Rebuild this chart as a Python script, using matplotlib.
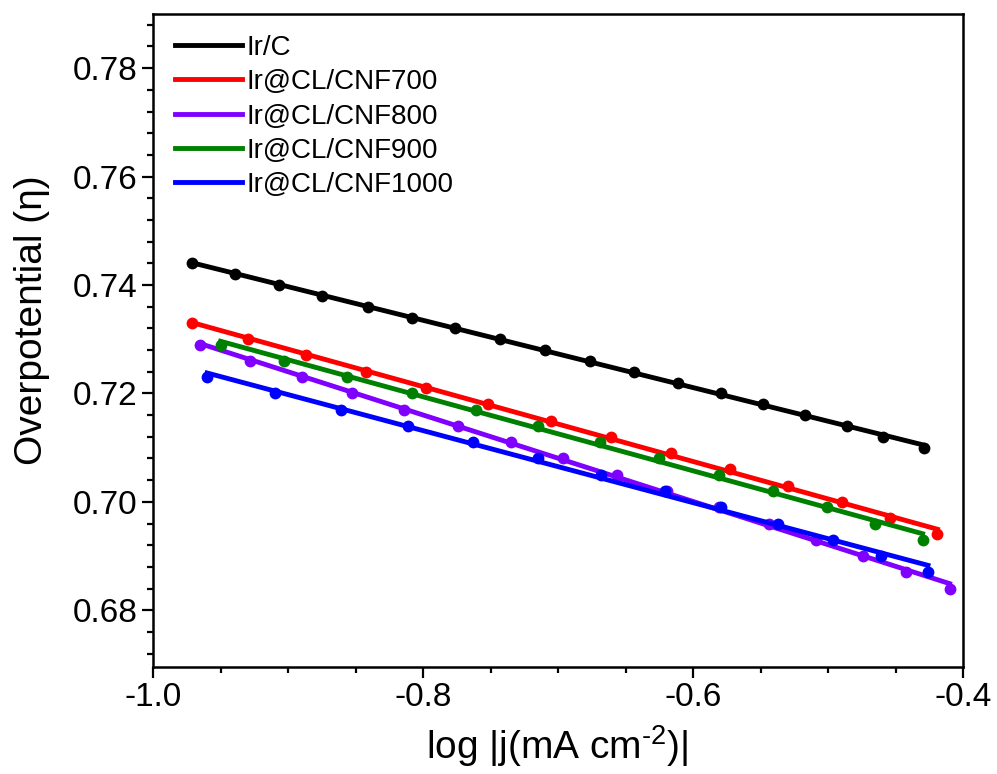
import numpy as np
import matplotlib
matplotlib.use("Agg")
import matplotlib.pyplot as plt
from matplotlib.ticker import MultipleLocator

plt.rcParams['font.family'] = ['Liberation Sans', 'DejaVu Sans']
plt.rcParams['mathtext.fontset'] = 'custom'
plt.rcParams['mathtext.rm'] = 'Liberation Sans'
plt.rcParams['mathtext.default'] = 'regular'

# ---------------- data ----------------
labels = ["Ir/C", "Ir@CL/CNF700", "Ir@CL/CNF800", "Ir@CL/CNF900", "Ir@CL/CNF1000"]
colors = ["black", "#ff0000", "#8000ff", "#008000", "#0000ff"]

x_irc = [-0.971, -0.939, -0.907, -0.875, -0.841, -0.808, -0.776, -0.743, -0.710,
         -0.676, -0.644, -0.611, -0.579, -0.548, -0.517, -0.486, -0.459, -0.429]
y_irc = [0.744, 0.742, 0.740, 0.738, 0.736, 0.734, 0.732, 0.730, 0.728,
         0.726, 0.724, 0.722, 0.720, 0.718, 0.716, 0.714, 0.712, 0.710]

x_700 = [-0.971, -0.930, -0.887, -0.842, -0.798, -0.752, -0.705, -0.661, -0.616,
         -0.573, -0.530, -0.490, -0.454, -0.419]
y_700 = [0.733, 0.730, 0.727, 0.724, 0.721, 0.718, 0.715, 0.712, 0.709,
         0.706, 0.703, 0.700, 0.697, 0.694]

x_800 = [-0.965, -0.928, -0.890, -0.853, -0.814, -0.774, -0.735, -0.696, -0.656,
         -0.619, -0.581, -0.544, -0.509, -0.474, -0.442, -0.410]
y_800 = [0.729, 0.726, 0.723, 0.720, 0.717, 0.714, 0.711, 0.708, 0.705,
         0.702, 0.699, 0.696, 0.693, 0.690, 0.687, 0.684]

x_900 = [-0.950, -0.903, -0.856, -0.808, -0.761, -0.715, -0.669, -0.625, -0.581,
         -0.541, -0.501, -0.465, -0.430]
y_900 = [0.729, 0.726, 0.723, 0.720, 0.717, 0.714, 0.711, 0.708, 0.705,
         0.702, 0.699, 0.696, 0.693]

x_1000 = [-0.960, -0.910, -0.861, -0.811, -0.763, -0.715, -0.668, -0.621, -0.579,
          -0.537, -0.496, -0.461, -0.426]
y_1000 = [0.723, 0.720, 0.717, 0.714, 0.711, 0.708, 0.705, 0.702, 0.699,
          0.696, 0.693, 0.690, 0.687]

xs = [x_irc, x_700, x_800, x_900, x_1000]
ys = [y_irc, y_700, y_800, y_900, y_1000]

# ---------------- plot ----------------
figure, axes = plt.subplots(figsize=(9.97, 7.74), dpi=100)
figure.subplots_adjust(left=0.1535, right=0.966, bottom=0.138, top=0.982)

for x, y, c, lab in zip(xs, ys, colors, labels):
    x = np.array(x)
    y = np.array(y)
    axes.plot(x, y, "o", color=c, markersize=8.5, markeredgewidth=0)
    k, b = np.polyfit(x, y, 1)  # Tafel linear fit
    xf = np.array([x.min(), x.max()])
    axes.plot(xf, k * xf + b, "-", color=c, linewidth=3.5, label=lab)

axes.set_xlim(-1.0, -0.4)
axes.set_ylim(0.6695, 0.79)
axes.xaxis.set_major_locator(MultipleLocator(0.2))
axes.xaxis.set_minor_locator(MultipleLocator(0.05))
axes.yaxis.set_major_locator(MultipleLocator(0.02))
axes.yaxis.set_minor_locator(MultipleLocator(0.004))
axes.xaxis.set_major_formatter(lambda v, p: f"{v:.1f}")
axes.yaxis.set_major_formatter(lambda v, p: f"{v:.2f}")

axes.tick_params(which="both", direction="out", top=False, right=False,
                 width=1.6, labelsize=24, pad=3)
axes.tick_params(which="major", length=8)
axes.tick_params(which="minor", length=4.5)
for s in axes.spines.values():
    s.set_linewidth(1.8)

axes.set_xlabel(r"log |j(mA cm$^{\text{-2}}$)|", fontsize=28)
axes.set_ylabel("Overpotential (η)", fontsize=28)
axes.xaxis.set_label_coords(0.499, -0.085)
axes.yaxis.set_label_coords(-0.127, 0.531)

axes.legend(loc="upper left", bbox_to_anchor=(0.014, 0.985), borderaxespad=0,
            frameon=False, fontsize=20, handlelength=2.4, handletextpad=0.15,
            labelspacing=0.3)

figure.savefig("out.png", dpi=100)
